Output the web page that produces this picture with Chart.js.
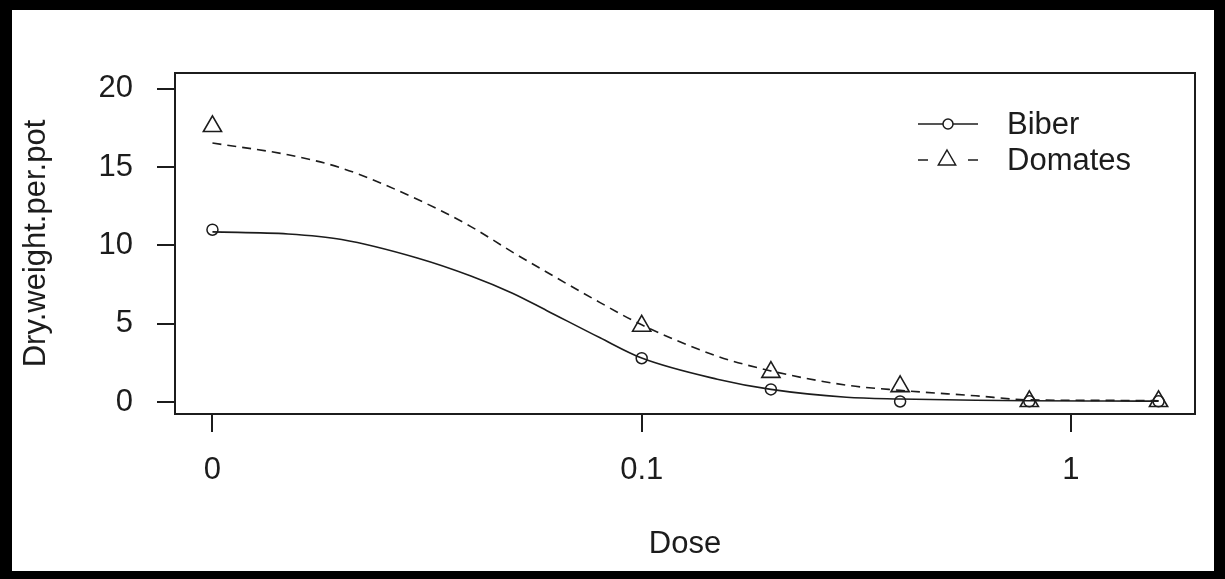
<!DOCTYPE html>
<html lang="en">
<head>
<meta charset="UTF-8">
<title>Dose response</title>
<script src="https://cdn.jsdelivr.net/npm/chart.js@4.4.1/dist/chart.umd.min.js"></script>
<style>
    html, body { margin: 0; padding: 0; background: #fff; }
    #wrap { width: 1225px; height: 579px; position: relative; }
</style>
</head>
<body>
<div id="wrap"><canvas id="myChart"></canvas></div>
<script>
    // observed means (dose 0 is put one decade under 0.1, as drc does)
    var doses = [0, 0.1, 0.2, 0.4, 0.8, 1.6];
    var biber = [11.0, 2.8, 0.81, 0.04, 0.05, 0.05];
    var domates = [17.6, 4.86, 1.91, 1.0, 0.05, 0.05];
    var zeroDosePos = 0.01;

    // fitted curves
    var fitDoses = [0.01, 0.015, 0.02, 0.03, 0.04, 0.05, 0.06, 0.08, 0.1, 0.15, 0.2, 0.3, 0.4, 0.6, 0.8, 1.2, 1.6];
    var biberFit = [10.86, 10.73, 10.38, 9.2, 8.05, 6.95, 5.85, 4.1, 2.81, 1.46, 0.81, 0.31, 0.2, 0.12, 0.09, 0.07, 0.06];
    var domatesFit = [16.53, 15.78, 14.93, 12.94, 11.2, 9.57, 8.3, 6.35, 4.93, 2.93, 1.99, 1.08, 0.75, 0.4, 0.14, 0.11, 0.09];

    var xTickValues = [0.01, 0.1, 1];
    var xTickLabels = ['0', '0.1', '1'];
    var yTickValues = [0, 5, 10, 15, 20];
    var seriesNames = ['Biber', 'Domates'];

    var FONT = "'Liberation Sans', Arial, sans-serif";
    var INK = '#1c1c1c';

    function f_points(xs, ys) {
        var out = [];
        for (var i = 0; i < xs.length; i++) {
            out.push({ x: xs[i] === 0 ? zeroDosePos : xs[i], y: ys[i] });
        }
        return out;
    }

    // box, outer frame and R-style legend
    var rPlot = {
        id: 'rPlot',
        beforeDraw: function (chart) {
            var c = chart.ctx;
            c.save();
            c.fillStyle = '#fff';
            c.fillRect(0, 0, chart.width, chart.height);
            c.restore();
        },
        afterDraw: function (chart) {
            var c = chart.ctx;
            var a = chart.chartArea;
            c.save();
            c.strokeStyle = INK;
            c.lineWidth = 2;
            c.strokeRect(a.left, a.top, a.right - a.left, a.bottom - a.top);

            // legend
            var lx = a.right - 277, ly = a.top + 51, gap = 36;
            c.lineWidth = 1.5;
            c.beginPath();
            c.moveTo(lx, ly); c.lineTo(lx + 60, ly);
            c.stroke();
            c.fillStyle = '#fff';
            c.beginPath();
            c.arc(lx + 30, ly, 5, 0, Math.PI * 2);
            c.fill(); c.stroke();

            var y2 = ly + gap;
            c.beginPath();
            c.moveTo(lx, y2); c.lineTo(lx + 10, y2);
            c.moveTo(lx + 50, y2); c.lineTo(lx + 60, y2);
            c.stroke();
            var r = 10;
            c.beginPath();
            c.moveTo(lx + 29, y2 - r);
            c.lineTo(lx + 29 + r * 0.866, y2 + r / 2);
            c.lineTo(lx + 29 - r * 0.866, y2 + r / 2);
            c.closePath();
            c.stroke();

            c.fillStyle = INK;
            c.font = '31px ' + FONT;
            c.textBaseline = 'middle';
            c.textAlign = 'left';
            c.fillText(seriesNames[0], lx + 89, ly + 1);
            c.fillText(seriesNames[1], lx + 89, y2 + 1);

            // outer black frame
            c.fillStyle = '#000';
            c.fillRect(0, 0, chart.width, 10);
            c.fillRect(0, 0, 12, chart.height);
            c.fillRect(0, chart.height - 8, chart.width, 8);
            c.fillRect(chart.width - 11, 0, 11, chart.height);
            c.restore();
        }
    };

    const ctx = document.getElementById('myChart').getContext('2d');
    const myChart = new Chart(ctx, {
        type: 'scatter',
        data: {
            datasets: [{
                label: seriesNames[0],
                data: f_points(doses, biber),
                pointStyle: 'circle',
                pointRadius: 5.5,
                pointBorderWidth: 1.5,
                pointBorderColor: INK,
                pointBackgroundColor: 'rgba(0,0,0,0)',
                showLine: false
            }, {
                label: seriesNames[1],
                data: f_points(doses, domates),
                pointStyle: 'triangle',
                pointRadius: 10.5,
                pointBorderWidth: 1.6,
                pointBorderColor: INK,
                pointBackgroundColor: 'rgba(0,0,0,0)',
                showLine: false
            }, {
                label: seriesNames[0] + ' fit',
                data: f_points(fitDoses, biberFit),
                showLine: true,
                pointRadius: 0,
                borderColor: INK,
                borderWidth: 1.6,
                cubicInterpolationMode: 'monotone'
            }, {
                label: seriesNames[1] + ' fit',
                data: f_points(fitDoses, domatesFit),
                showLine: true,
                pointRadius: 0,
                borderColor: INK,
                borderWidth: 1.6,
                borderDash: [9, 6],
                cubicInterpolationMode: 'monotone'
            }]
        },
        options: {
            responsive: true,
            maintainAspectRatio: false,
            animation: false,
            events: [],
            layout: { padding: { top: 73, right: 30, left: 0, bottom: 0 } },
            plugins: { legend: { display: false }, tooltip: { enabled: false } },
            scales: {
                x: {
                    type: 'logarithmic',
                    min: 0.00818,
                    max: 1.9455,
                    afterBuildTicks: function (s) {
                        s.ticks = xTickValues.map(function (v) { return { value: v }; });
                    },
                    afterFit: function (s) { s.height = 165; },
                    border: { display: false },
                    grid: { drawOnChartArea: false, drawTicks: true, tickLength: 18, color: INK, lineWidth: 2 },
                    ticks: {
                        color: INK, font: { family: FONT, size: 31 }, padding: 20, maxRotation: 0, autoSkip: false,
                        callback: function (v, i) { return xTickLabels[i]; }
                    },
                    title: { display: true, text: 'Dose', color: INK, font: { family: FONT, size: 31 }, padding: { bottom: 16 } }
                },
                y: {
                    min: -0.76,
                    max: 21.0,
                    afterBuildTicks: function (s) {
                        s.ticks = yTickValues.map(function (v) { return { value: v }; });
                    },
                    afterFit: function (s) { s.width = 175; },
                    border: { display: false },
                    grid: { drawOnChartArea: false, drawTicks: true, tickLength: 18, color: INK, lineWidth: 2 },
                    ticks: { color: INK, font: { family: FONT, size: 31 }, padding: 24 },
                    title: { display: true, text: 'Dry.weight.per.pot', color: INK, font: { family: FONT, size: 31 }, padding: { top: 18 } }
                }
            }
        },
        plugins: [rPlot]
    });
</script>
</body>
</html>
